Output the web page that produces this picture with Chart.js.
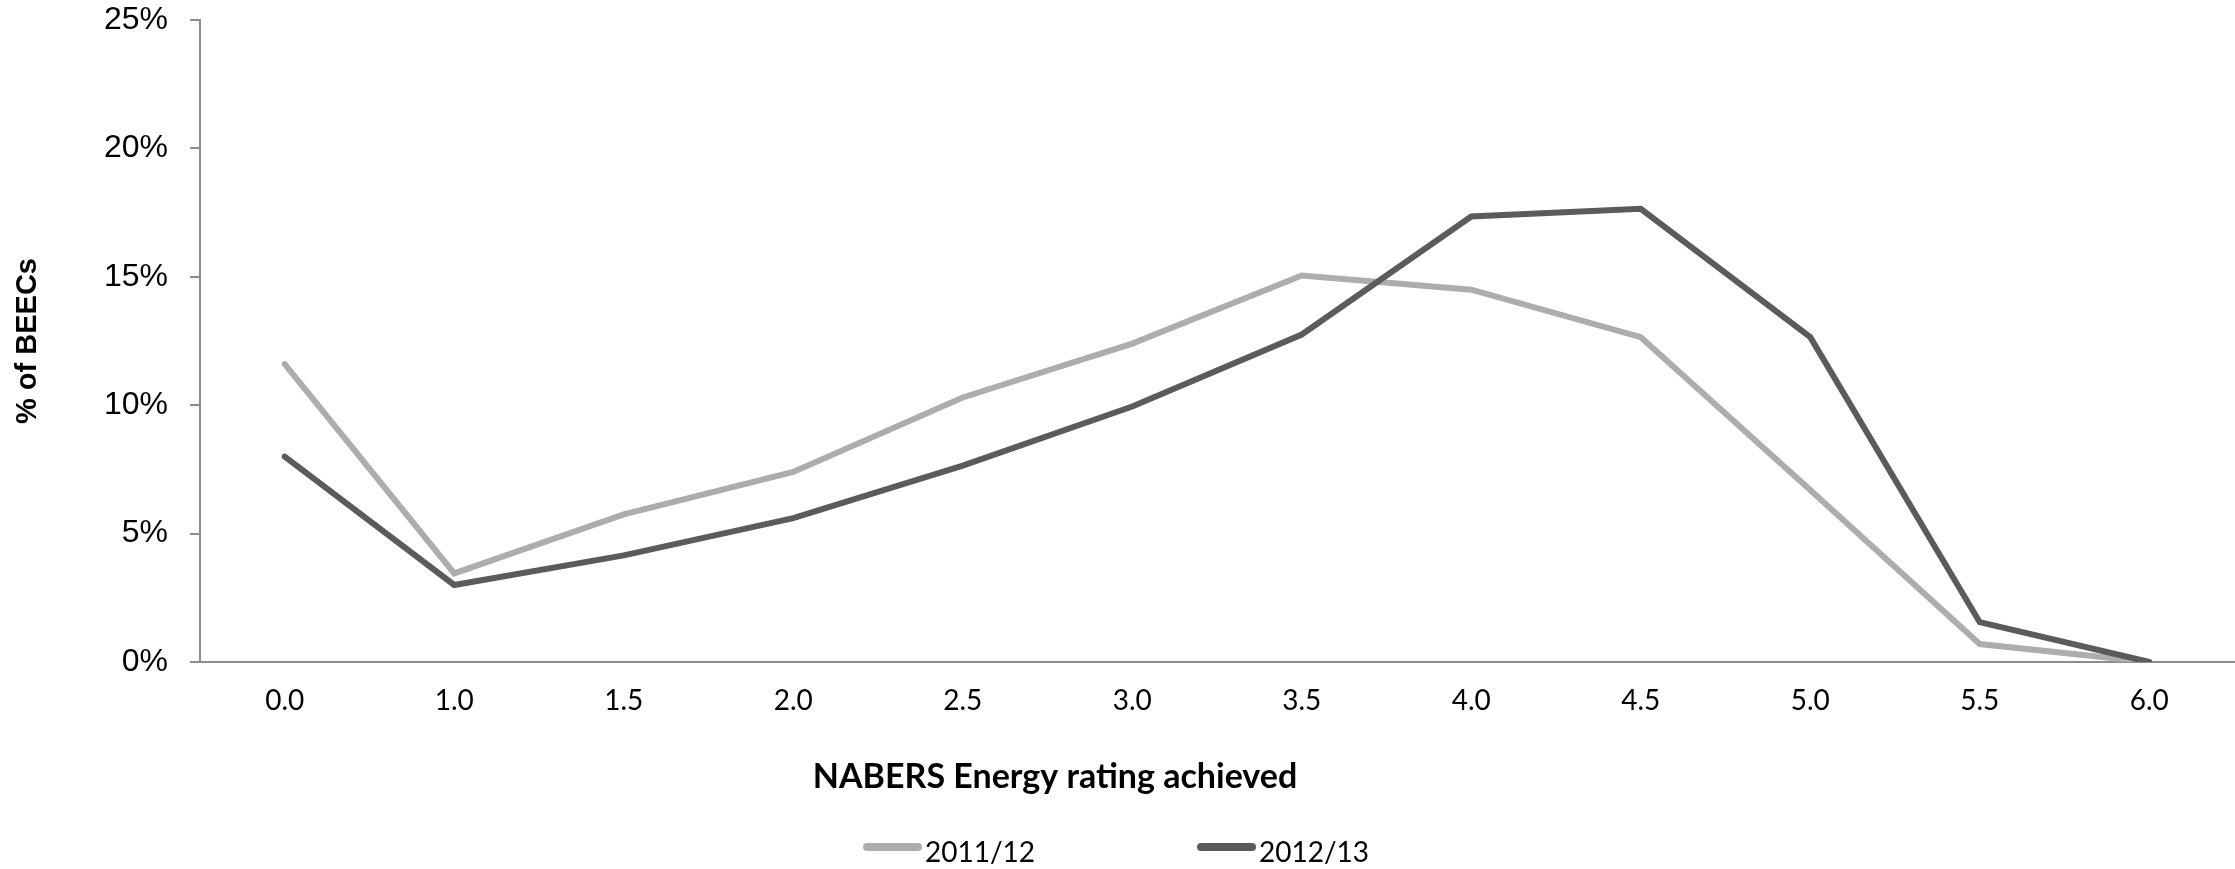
<!DOCTYPE html>
<html>
<head>
<meta charset="utf-8">
<script src="https://cdn.jsdelivr.net/npm/chart.js@4.4.0/dist/chart.umd.min.js"></script>
<style>
  body { margin: 0; background: #fff; }
</style>
</head>
<body>
<canvas id="rating_chart" width="2235" height="869"></canvas>
<script>
var ratings = ['0.0', '1.0', '1.5', '2.0', '2.5', '3.0', '3.5', '4.0', '4.5', '5.0', '5.5', '6.0'];
var share_2011 = [11.6, 3.45, 5.75, 7.4, 10.3, 12.4, 15.05, 14.5, 12.65, 6.7, 0.7, 0];
var share_2012 = [8.0, 3.0, 4.15, 5.6, 7.65, 9.95, 12.75, 17.35, 17.65, 12.65, 1.55, 0];
var series_names = ['2011/12', '2012/13'];
var x_title = 'NABERS Energy rating achieved';
var y_title = '% of BEECs';

var axis_grey = '#8c8c8c';

// x title and legend sit off-centre in the original, so draw them by hand
var outside_text = {
    id: 'outside_text',
    afterDraw: function(chart) {
        var ctx = chart.ctx;
        ctx.save();
        ctx.fillStyle = '#000';
        ctx.font = 'bold 34px Lato';
        ctx.textAlign = 'center';
        ctx.textBaseline = 'alphabetic';
        ctx.fillText(x_title, 1055, 788);

        var starts = [863, 1197];
        ctx.font = '28px Lato';
        ctx.textAlign = 'left';
        chart.data.datasets.forEach(function(ds, i) {
            var x = starts[i];
            ctx.beginPath();
            ctx.strokeStyle = ds.borderColor;
            ctx.lineWidth = 8;
            ctx.lineCap = 'round';
            ctx.moveTo(x + 4, 847);
            ctx.lineTo(x + 55, 847);
            ctx.stroke();
            ctx.fillText(ds.label, x + 62, 862);
        });
        ctx.restore();
    }
};

var ctx = document.getElementById('rating_chart');

var ratingChart = new Chart(ctx, {
    type: 'line',
    data: {
        labels: ratings,
        datasets: [
            {
                label: series_names[0],
                data: share_2011,
                borderColor: '#adadad',
                backgroundColor: '#adadad',
                borderWidth: 6,
                pointRadius: 0,
                borderCapStyle: 'round',
                borderJoinStyle: 'miter',
                tension: 0,
                order: 1
            },
            {
                label: series_names[1],
                data: share_2012,
                borderColor: '#5b5b5b',
                backgroundColor: '#5b5b5b',
                borderWidth: 6,
                pointRadius: 0,
                borderCapStyle: 'round',
                borderJoinStyle: 'miter',
                tension: 0,
                order: 0
            }
        ]
    },
    options: {
        responsive: false,
        animation: false,
        layout: {
            padding: { left: 0, right: 1, top: 0, bottom: 0 }
        },
        scales: {
            x: {
                offset: true,
                afterFit: function(scale) { scale.height = 207; },
                grid: { display: false, drawTicks: false },
                border: { display: true, color: axis_grey, width: 2 },
                ticks: {
                    color: '#000',
                    padding: 22,
                    font: { family: 'Lato', size: 28 }
                }
            },
            y: {
                min: 0,
                max: 25,
                afterFit: function(scale) {
                    scale.width = 200;
                    scale.paddingTop = 20;
                    scale.paddingBottom = 0;
                },
                grid: {
                    drawOnChartArea: false,
                    drawTicks: true,
                    tickLength: 10,
                    color: axis_grey,
                    lineWidth: 2
                },
                border: { display: true, color: axis_grey, width: 2 },
                ticks: {
                    stepSize: 5,
                    color: '#000',
                    padding: 22,
                    font: { family: 'Liberation Sans', size: 32 },
                    callback: function(value) { return value + '%'; }
                },
                title: {
                    display: true,
                    text: y_title,
                    color: '#000',
                    padding: { top: 11, bottom: 0 },
                    font: { family: 'Liberation Sans', size: 29, weight: 'bold' }
                }
            }
        },
        plugins: {
            legend: { display: false },
            tooltip: { enabled: false }
        }
    },
    plugins: [outside_text]
});
</script>
</body>
</html>
